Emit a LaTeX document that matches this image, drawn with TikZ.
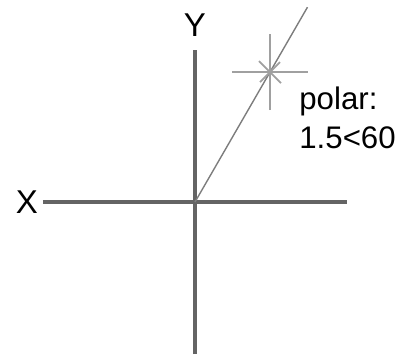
\documentclass[tikz,border=0pt]{standalone}
\usepackage{fontspec}
\setmainfont{Liberation Sans}
\usepackage{xcolor}
\usetikzlibrary{calc,positioning}
\definecolor{AxisGray}{RGB}{100,100,100}
\definecolor{RayGray}{RGB}{125,125,125}
\definecolor{MarkGray}{RGB}{160,160,160}
\tikzset{
  axis/.style={AxisGray,line width=2pt},
  ray/.style={RayGray,line width=0.7pt},
  markline/.style={MarkGray,line width=0.9pt},
  axlabel/.style={font=\fontsize{16.5}{18}\selectfont,inner sep=0pt},
}
\begin{document}
\begin{tikzpicture}[x=0.5pt,y=0.5pt]
        \useasboundingbox (-195,-153) rectangle (203,202);
        % axes
        \coordinate (O) at (0,0);
        \coordinate (xl) at (-152,0);
        \coordinate (xr) at (152,0);
        \coordinate (yt) at (0,152);
        \coordinate (yb) at (0,-152);
        \draw[axis] (xl)--(xr);
        \draw[axis] (yb)--(yt);
        \node[axlabel] (X) at (-168,0) {X};
        \node[axlabel] (Y) at (0,177) {Y};
        % polar point
        \coordinate (P) at (60:150);
        \coordinate (E) at (60:225);
        \draw[ray] (O)--(E);
        \draw[markline] (P) ++(-38,0) -- ++(76,0);
        \draw[markline] (P) ++(0,-38) -- ++(0,76);
        \draw[markline] (P) ++(-11,11) -- ++(22,-22);
        \draw[markline] (P) ++(-10,-10) -- ++(20,20);
        \node[font=\fontsize{15.6}{19.5}\selectfont,align=left,inner sep=0pt,anchor=north west] (lbl)
          at (104,116) {polar:\\1.5<60};
      \end{tikzpicture}
\end{document}
